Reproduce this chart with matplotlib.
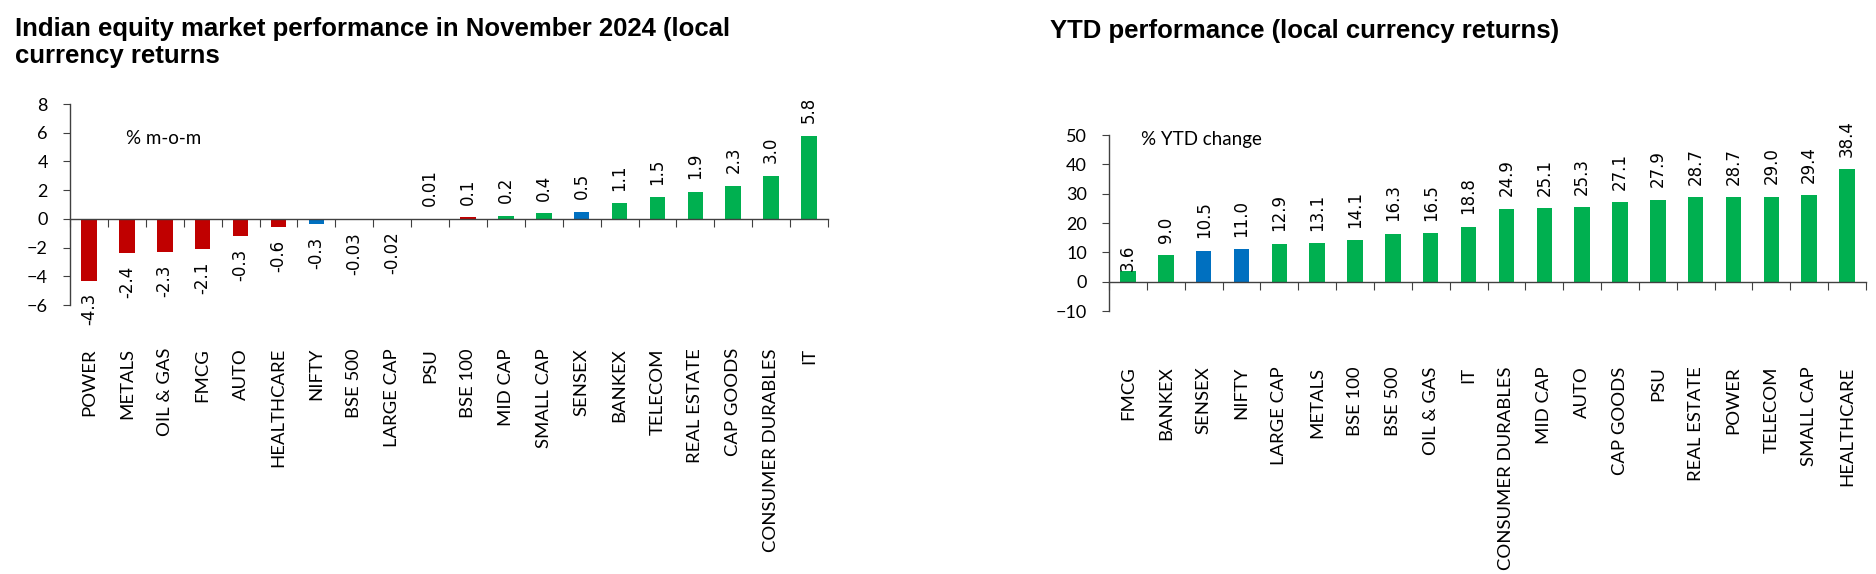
import matplotlib
matplotlib.use('Agg')
import matplotlib.pyplot as plt
import numpy as np

# November 2024 m-o-m returns (label text and drawn bar heights)
mom_sectors = ['POWER', 'METALS', 'OIL & GAS', 'FMCG', 'AUTO', 'HEALTHCARE', 'NIFTY', 'BSE 500',
               'LARGE CAP', 'PSU', 'BSE 100', 'MID CAP', 'SMALL CAP', 'SENSEX', 'BANKEX', 'TELECOM',
               'REAL ESTATE', 'CAP GOODS', 'CONSUMER DURABLES', 'IT']
mom_bars = [-4.3, -2.4, -2.3, -2.1, -1.2, -0.57, -0.35, -0.03, -0.02, 0.01, 0.1, 0.2, 0.4, 0.5,
            1.1, 1.5, 1.9, 2.3, 3.0, 5.8]
mom_labels = ['-4.3', '-2.4', '-2.3', '-2.1', '-0.3', '-0.6', '-0.3', '-0.03', '-0.02', '0.01', '0.1',
              '0.2', '0.4', '0.5', '1.1', '1.5', '1.9', '2.3', '3.0', '5.8']
mom_colors = ['red'] * 6 + ['blue'] + ['red'] * 4 + ['green'] * 2 + ['blue'] + ['green'] * 6

# YTD returns
ytd_sectors = ['FMCG', 'BANKEX', 'SENSEX', 'NIFTY', 'LARGE CAP', 'METALS', 'BSE 100', 'BSE 500',
               'OIL & GAS', 'IT', 'CONSUMER DURABLES', 'MID CAP', 'AUTO', 'CAP GOODS', 'PSU',
               'REAL ESTATE', 'POWER', 'TELECOM', 'SMALL CAP', 'HEALTHCARE']
ytd_values = [3.6, 9.0, 10.5, 11.0, 12.9, 13.1, 14.1, 16.3, 16.5, 18.8, 24.9, 25.1, 25.3, 27.1,
              27.9, 28.7, 28.7, 29.0, 29.4, 38.4]
ytd_colors = ['green', 'green', 'blue', 'blue'] + ['green'] * 16

palette = {'red': '#C00000', 'green': '#00B050', 'blue': '#0070C0'}
axis_col = '#404040'

W, H = 1876, 574
fig = plt.figure(figsize=(W / 100, H / 100), dpi=100)


def px_axes(left, top, right, bottom):
    return fig.add_axes([left / W, (H - bottom) / H, (right - left) / W, (bottom - top) / H])


def style_axes(ax, n, ylo, yhi, step):
    ax.set_xlim(-0.5, n - 0.5)
    ax.set_ylim(ylo, yhi)
    ax.set_yticks(np.arange(ylo, yhi + step / 2, step))
    for s in ['top', 'right']:
        ax.spines[s].set_visible(False)
    ax.spines['bottom'].set_position(('data', 0))
    for s in ['left', 'bottom']:
        ax.spines[s].set_color(axis_col)
        ax.spines[s].set_linewidth(1.0)
    ax.set_xticks(np.arange(-0.5, n, 1.0))
    ax.tick_params(axis='x', direction='out', length=5.5, color=axis_col, labelbottom=False)
    ax.tick_params(axis='y', direction='out', length=5, color=axis_col, pad=11,
                   labelsize=13, labelfontfamily='Lato')


def cat_labels(ax, names, pad):
    for i, name in enumerate(names):
        ax.annotate(name, xy=(i, 0), xycoords=('data', 'axes fraction'),
                    xytext=(0, -pad), textcoords='offset points',
                    rotation=90, ha='center', va='top', fontsize=13.3, family='Lato')


# ---- left chart: November m-o-m
ax1 = px_axes(70, 104, 828, 305)
x1 = np.arange(len(mom_sectors))
ax1.bar(x1, mom_bars, width=0.41, color=[palette[c] for c in mom_colors], zorder=2)
style_axes(ax1, len(mom_sectors), -6, 8, 2)
for i, (v, lab) in enumerate(zip(mom_bars, mom_labels)):
    off = 9 if v >= 0 else -9
    ax1.annotate(lab, xy=(i, v), xytext=(0, off), textcoords='offset points', rotation=90,
                 ha='center', va='bottom' if v >= 0 else 'top', fontsize=12, family='DejaVu Sans')
cat_labels(ax1, mom_sectors, 31)
ax1.text(126 / W, (H - 138) / H, '% m-o-m', transform=fig.transFigure, fontsize=13.5,
         family='Lato', va='center', ha='left')

# ---- right chart: YTD
ax2 = px_axes(1109, 135, 1866, 311)
x2 = np.arange(len(ytd_sectors))
ax2.bar(x2, ytd_values, width=0.41, color=[palette[c] for c in ytd_colors], zorder=2)
style_axes(ax2, len(ytd_sectors), -10, 50, 10)
for i, v in enumerate(ytd_values):
    off = 0 if ytd_sectors[i] == 'FMCG' else 9
    ax2.annotate(f'{v:.1f}', xy=(i, v), xytext=(0, off), textcoords='offset points', rotation=90,
                 ha='center', va='bottom', fontsize=12, family='DejaVu Sans')
cat_labels(ax2, ytd_sectors, 40)
ax2.text(1141 / W, (H - 140) / H, '% YTD change', transform=fig.transFigure, fontsize=13.5,
         family='Lato', va='center', ha='left')

# titles
title_kw = dict(fontsize=18.5, fontweight='bold', family='Liberation Sans', va='baseline', ha='left')
fig.text(15 / W, (H - 36) / H, 'Indian equity market performance in November 2024 (local', **title_kw)
fig.text(15 / W, (H - 63) / H, 'currency returns', **title_kw)
fig.text(1050 / W, (H - 38) / H, 'YTD performance (local currency returns)', **title_kw)

fig.savefig('out.png', dpi=100)
